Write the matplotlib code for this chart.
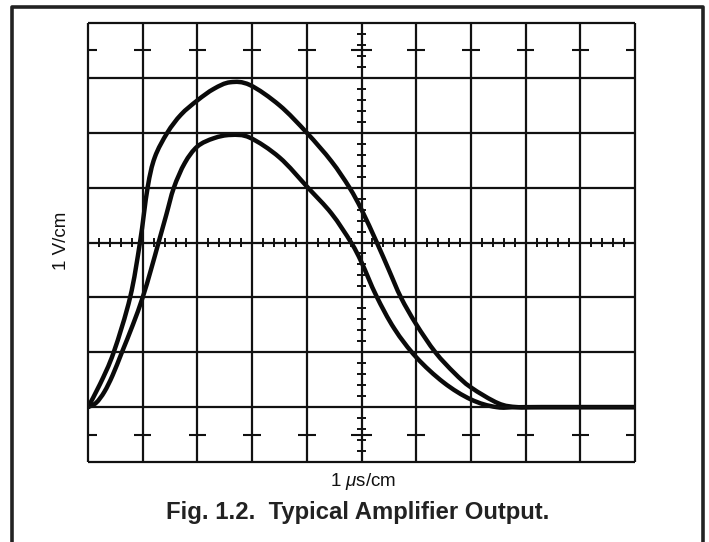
import matplotlib
matplotlib.use("Agg")
import matplotlib.pyplot as plt
from matplotlib.lines import Line2D
from matplotlib.path import Path
from matplotlib.patches import PathPatch
import numpy as np

plt.rcParams['font.family'] = ['Liberation Sans', 'DejaVu Sans']
plt.rcParams['mathtext.fontset'] = 'custom'
plt.rcParams['mathtext.it'] = 'Liberation Sans:italic'
plt.rcParams['mathtext.rm'] = 'Liberation Sans'

# Graticule: 10 horizontal divisions, 8 vertical divisions (centre = 0)
x_divs = list(range(0, 11))
y_divs = list(range(-4, 5))

# Trace A (larger output), in divisions
a_x = [0, 0.22, 0.47, 0.77, 0.95, 1.09, 1.22, 1.45, 1.7, 2.0, 2.3, 2.6, 2.96, 3.5,
       4.0, 4.45, 4.78, 5.0, 5.28, 5.5, 5.72, 6.0, 6.35, 6.7, 7.0, 7.5, 7.85, 8.3, 10]
a_y = [-3, -2.58, -2.0, -1.0, 0.0, 1.0, 1.55, 2.0, 2.33, 2.59, 2.8, 2.92, 2.87, 2.5,
       2.0, 1.48, 1.0, 0.6, 0.0, -0.5, -1.0, -1.49, -2.0, -2.38, -2.64, -2.93, -3.0,
       -3.0, -3.0]

# Trace B (smaller output)
b_x = [0, 0.15, 0.3, 0.45, 0.62, 0.82, 1.0, 1.15, 1.29, 1.43, 1.57, 1.77, 2.0, 2.3,
       2.61, 2.96, 3.5, 4.02, 4.45, 4.81, 5.0, 5.27, 5.6, 6.0, 6.5, 7.0, 7.47, 8.0, 10]
b_y = [-3, -2.92, -2.72, -2.42, -2.0, -1.5, -1.0, -0.5, 0.0, 0.5, 1.0, 1.45, 1.75, 1.9,
       1.96, 1.91, 1.55, 1.0, 0.53, 0.0, -0.36, -0.97, -1.57, -2.09, -2.55, -2.86, -3.0,
       -3.0, -3.0]

x_label = r'1 $\mu$s/cm'
y_label = '1 V/cm'
caption = 'Fig. 1.2.  Typical Amplifier Output.'


def smooth_path(xs, ys):
    """Cubic Bezier path through the given points (Catmull-Rom tangents)."""
    P = np.column_stack([xs, ys]).astype(float)
    n = len(P)
    verts = [P[0]]
    codes = [Path.MOVETO]
    for i in range(n - 1):
        p0 = P[i - 1] if i > 0 else P[i]
        p1 = P[i]
        p2 = P[i + 1]
        p3 = P[i + 2] if i + 2 < n else P[i + 1]
        c1 = p1 + (p2 - p0) / 6.0
        c2 = p2 - (p3 - p1) / 6.0
        verts += [c1, c2, p2]
        codes += [Path.CURVE4] * 3
    return Path(verts, codes)


W, H = 709, 542
fig = plt.figure(figsize=(W / 100, H / 100), dpi=100)
fig.patch.set_facecolor('white')

L, R, T, B = 88, 635, 23, 462
ax = fig.add_axes([L / W, 1 - B / H, (R - L) / W, (B - T) / H])
ax.set_xlim(0, 10)
ax.set_ylim(-4, 4)
ax.set_xticks([])
ax.set_yticks([])
for s in ax.spines.values():
    s.set_visible(False)

ink = '#111111'
glw = 1.6
# grid lines
for xv in x_divs:
    ax.plot([xv, xv], [-4, 4], color=ink, lw=glw, solid_capstyle='butt', clip_on=False)
for yv in y_divs:
    ax.plot([0, 10], [yv, yv], color=ink, lw=glw, solid_capstyle='butt', clip_on=False)

# minor ticks on centre lines (every 0.2 div)
minor = np.round(np.arange(0.2, 10, 0.2), 2)
for m in minor:
    if abs(m - round(m)) > 1e-6:
        ax.plot([m, m], [-0.09, 0.09], color=ink, lw=1.4, solid_capstyle='butt')
minor_y = np.round(np.arange(-3.8, 4, 0.2), 2)
for m in minor_y:
    if abs(m - round(m)) > 1e-6:
        ax.plot([4.91, 5.09], [m, m], color=ink, lw=1.4, solid_capstyle='butt')

# half-division marks in top and bottom rows
for yv in (3.5, -3.5):
    for xv in x_divs:
        hw = 0.2 if xv == 5 else 0.16
        ax.plot([max(0, xv - hw), min(10, xv + hw)], [yv, yv], color=ink, lw=1.5,
                solid_capstyle='butt')

# traces
for xs, ys in ((a_x, a_y), (b_x, b_y)):
    ax.add_patch(PathPatch(smooth_path(xs, ys), facecolor='none', edgecolor='#0a0a0a',
                           lw=3.2, joinstyle='round', capstyle='round'))

# labels
fig.text(62 / W, 1 - 241 / H, y_label, rotation=90, ha='center', va='center',
         fontsize=13.5, color='#111')
fig.text(363 / W, 1 - 481 / H, x_label, ha='center', va='center', fontsize=13.5,
         color='#111')
fig.text(358 / W, 1 - 513 / H, caption, ha='center', va='center', fontsize=17.2,
         fontweight='bold', color='#222')

# outer frame (open at the bottom)
fig.add_artist(Line2D([12 / W, 12 / W, 703 / W, 703 / W],
                      [-0.02, 1 - 7 / H, 1 - 7 / H, -0.02],
                      transform=fig.transFigure, lw=2.6, color='#222'))

fig.savefig('out.png', dpi=100, facecolor='white')
